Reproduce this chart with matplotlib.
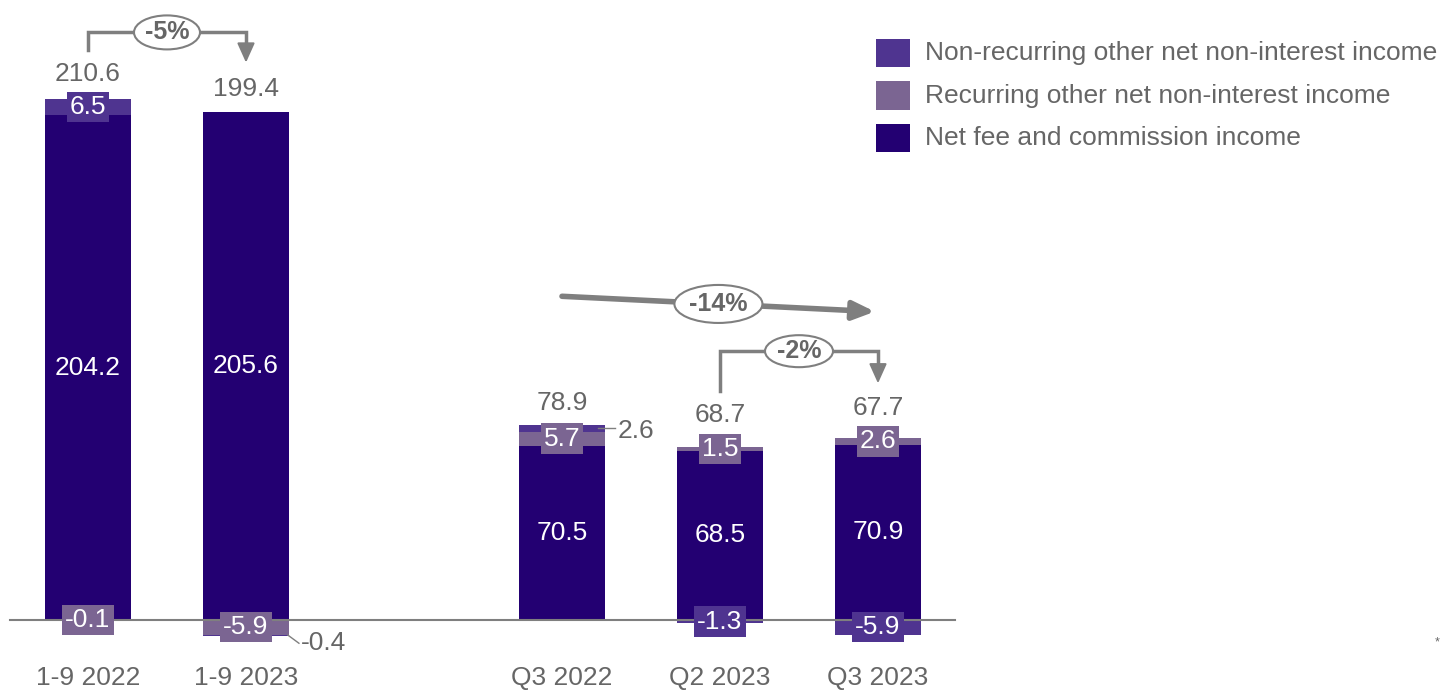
"""
Other net non-interest income breakdown, stacked bars with growth callouts.
"""

import matplotlib

matplotlib.use("Agg")
import matplotlib.pyplot as plt
from matplotlib.patches import Ellipse, Rectangle
import numpy as np

plt.rcParams["font.family"] = ["Liberation Sans", "DejaVu Sans"]

# --- data --------------------------------------------------------------------
categories = ["1-9 2022", "1-9 2023", "Q3 2022", "Q2 2023", "Q3 2023"]
positions = [0, 1, 3, 4, 5]
net_fee = [204.2, 205.6, 70.5, 68.5, 70.9]
recurring = [-0.1, -5.9, 5.7, 1.5, 2.6]
non_recurring = [6.5, -0.4, 2.6, -1.3, -5.9]
totals = [210.6, 199.4, 78.9, 68.7, 67.7]
# small labels written outside the bar (with leader line) instead of in a box
nonrec_outside = [False, True, True, False, False]

series_names = [
    "Non-recurring other net non-interest income",
    "Recurring other net non-interest income",
    "Net fee and commission income",
]

C_NAVY = "#230072"
C_REC = "#7B6592"
C_NONREC = "#4F3490"
C_GREY = "#666666"
C_LINE = "#7F7F7F"

# pixel geometry of the reference -> data scale
PX_X0, PX_PER_X = 88.0, 158.0
PX_Y0, PX_PER_Y = 620.0, 2.473
W, H = 1443, 691


def main():
    fig = plt.figure(figsize=(W / 100, H / 100), dpi=100)
    ax = fig.add_axes([0, 0, 1, 1])
    ax.set_xlim(-PX_X0 / PX_PER_X, (W - PX_X0) / PX_PER_X)
    ax.set_ylim(-(H - PX_Y0) / PX_PER_Y, PX_Y0 / PX_PER_Y)
    ax.axis("off")

    x = np.array(positions, dtype=float)
    bw = 0.55

    ax.bar(x, net_fee, width=bw, color=C_NAVY, zorder=2)

    pos_base = np.array(net_fee, dtype=float)
    neg_base = np.zeros(len(x))
    seg = {}
    for name, vals, col in [("rec", recurring, C_REC), ("nonrec", non_recurring, C_NONREC)]:
        vals = np.array(vals)
        bottoms = np.where(vals >= 0, pos_base, neg_base)
        ax.bar(x, vals, width=bw, bottom=bottoms, color=col, zorder=2)
        seg[name] = bottoms + vals / 2
        pos_base = np.where(vals >= 0, pos_base + vals, pos_base)
        neg_base = np.where(vals < 0, neg_base + vals, neg_base)

    # zero line
    ax.plot([-0.494, 5.487], [0, 0], color=C_LINE, lw=1.5, zorder=3)

    fs = 19
    # value inside navy bar
    for xi, v in zip(x, net_fee):
        ax.text(xi, v / 2, f"{v:.1f}", ha="center", va="center", color="white", fontsize=fs, zorder=5)

    # highest boxed label near the top of each bar (for placing totals)
    box_top = np.full(len(x), -np.inf)

    # recurring labels (boxed)
    for i, (xi, v, yc) in enumerate(zip(x, recurring, seg["rec"])):
        ax.text(xi, yc, f"{v:.1f}", ha="center", va="center", color="white", fontsize=fs, zorder=6,
                bbox=dict(boxstyle="square,pad=0.12", fc=C_REC, ec="none"))
        if v > 0:
            box_top[i] = max(box_top[i], yc)

    # non-recurring labels
    for i, (xi, v, yc) in enumerate(zip(x, non_recurring, seg["nonrec"])):
        if nonrec_outside[i]:
            edge = xi + bw / 2
            if v < 0:
                ax.plot([edge - 0.01, edge + 0.06], [yc, yc - 3.3], color=C_LINE, lw=1, zorder=4)
                ax.text(edge + 0.07, yc - 3.3, f"{v:.1f}", ha="left", va="center", color=C_GREY, fontsize=fs)
            else:
                ax.plot([edge - 0.05, edge + 0.06], [yc, yc], color=C_LINE, lw=1, zorder=4)
                ax.text(edge + 0.08, yc - 1, f"{v:.1f}", ha="left", va="center", color=C_GREY, fontsize=fs)
        else:
            ax.text(xi, yc, f"{v:.1f}", ha="center", va="center", color="white", fontsize=fs, zorder=6,
                    bbox=dict(boxstyle="square,pad=0.12", fc=C_NONREC, ec="none"))
            if v > 0:
                box_top[i] = max(box_top[i], yc)

    # totals above bars
    tops = np.array(net_fee) + np.clip(recurring, 0, None) + np.clip(non_recurring, 0, None)
    for xi, top, bt, t in zip(x, tops, box_top, totals):
        yl = max(top + 9, bt + 13.5)
        ax.text(xi, yl, f"{t:.1f}", ha="center", va="center", color=C_GREY, fontsize=fs)

    # category labels
    for xi, c in zip(x, categories):
        ax.text(xi, -(678 - PX_Y0) / PX_PER_Y, c, ha="center", va="center", color=C_GREY, fontsize=fs)

    def oval(xc, yc, wpx, hpx, label):
        ax.add_patch(Ellipse((xc, yc), wpx / PX_PER_X, hpx / PX_PER_Y, fc="white", ec=C_LINE, lw=1.5, zorder=8))
        ax.text(xc, yc, label, ha="center", va="center", color=C_GREY, fontsize=18, fontweight="bold", zorder=9)

    def bracket(i0, i1, y_start, y_bar, y_tip, label, wpx, hpx):
        x0, x1 = x[i0], x[i1]
        ax.plot([x0, x0, x1, x1], [y_start, y_bar, y_bar, y_tip + 5], color=C_LINE, lw=2.5,
                solid_joinstyle="miter", zorder=7)
        ax.annotate("", xy=(x1, y_tip), xytext=(x1, y_tip + 6.5),
                    arrowprops=dict(arrowstyle="-|>,head_width=0.27,head_length=0.6", color=C_LINE, lw=1.5,
                                    mutation_scale=20, shrinkA=0, shrinkB=0), zorder=7)
        oval((x0 + x1) / 2, y_bar, wpx, hpx, label)

    bracket(0, 1, totals[0] + 20, max(totals[:2]) + 27, totals[1] + 26, "-5%", 66, 34)
    bracket(3, 4, totals[3] + 24, totals[3] + 40, totals[4] + 28, "-2%", 68, 32)

    # -14% long arrow
    x_end = x[4] - 0.02
    ax.annotate("", xy=(x_end, totals[4] + 57), xytext=(x[2], totals[2] + 52),
                arrowprops=dict(arrowstyle="-|>,head_width=0.28,head_length=0.65", color=C_LINE, lw=4,
                                mutation_scale=20, shrinkA=0, shrinkB=0), zorder=7)
    oval((x[2] + x_end) / 2, (totals[2] + 52 + totals[4] + 57) / 2, 88, 38, "-14%")

    # legend
    cols = [C_NONREC, C_REC, C_NAVY]
    for k, (name, col) in enumerate(zip(series_names, cols)):
        yc = 53 + k * 42.5
        fig.patches.append(Rectangle((876 / W, 1 - (yc + 14) / H), 34 / W, 28 / H,
                                     transform=fig.transFigure, fc=col, ec="none"))
        fig.text(925 / W, 1 - yc / H, name, ha="left", va="center", color=C_GREY, fontsize=19)

    fig.text(1440 / W, 1 - 642 / H, "*", ha="right", va="center", color=C_GREY, fontsize=9)

    fig.savefig("out.png", dpi=100)
    plt.close(fig)


if __name__ == "__main__":
    main()
